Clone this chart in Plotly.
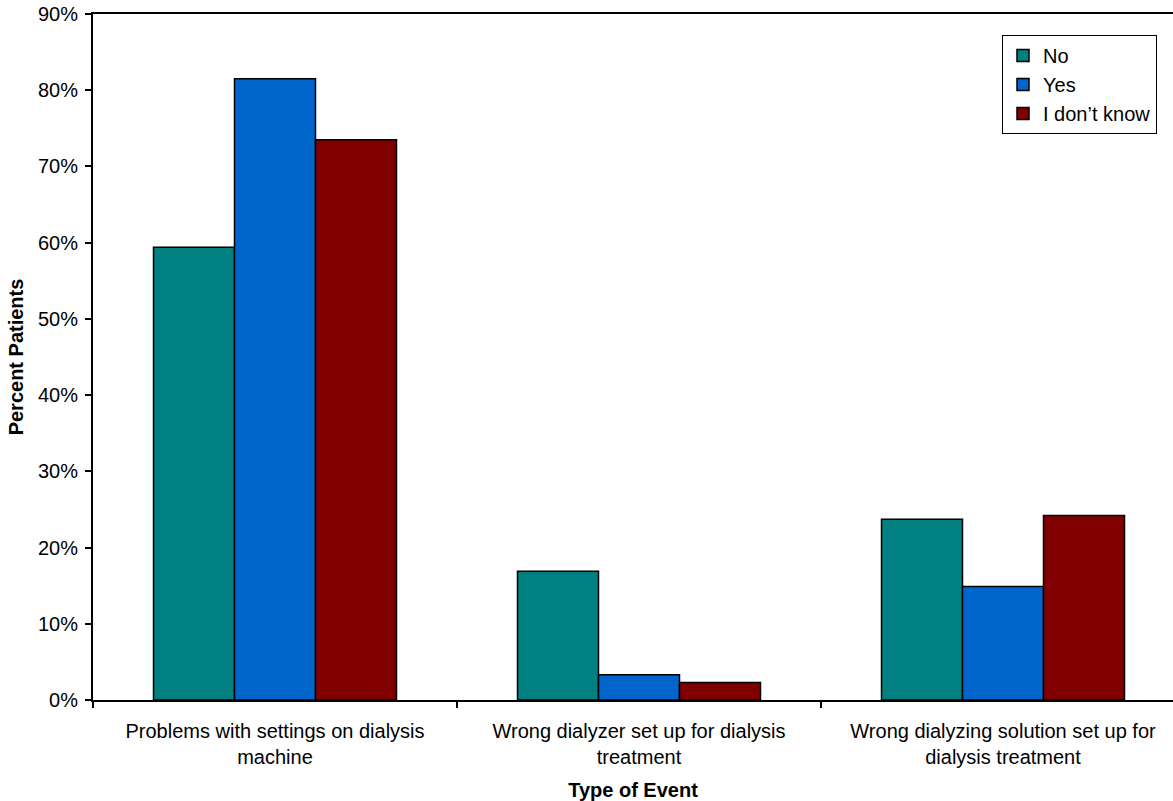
import plotly.graph_objects as go

categories = [
    "Problems with settings on dialysis<br>machine",
    "Wrong dialyzer set up for dialysis<br>treatment",
    "Wrong dialyzing solution set up for<br>dialysis treatment",
]
series_names = ["No", "Yes", "I don’t know"]
no_vals = [59.4, 16.9, 23.7]
yes_vals = [81.5, 3.3, 14.9]
dontknow_vals = [73.5, 2.3, 24.2]
colors = ["#008080", "#0066CC", "#800000"]
y_ticks = [0, 10, 20, 30, 40, 50, 60, 70, 80, 90]
y_ticklabels = [f"{v}%" for v in y_ticks]

FONT = "Liberation Sans, Arial, sans-serif"
FS = 20

fig = go.Figure()
for name, vals, col in zip(series_names, [no_vals, yes_vals, dontknow_vals], colors):
    fig.add_trace(go.Bar(
        x=categories, y=vals, name=name, legendgroup=name,
        marker=dict(color=col, line=dict(color="black", width=1.5)),
    ))

W, H = 1173, 801
L, R, T, B = 93, 0, 14, 100.5
plot_w = W - L - R
plot_h = H - T - B

fig.update_layout(
    width=W, height=H,
    autosize=False,
    margin=dict(l=L, r=R, t=T, b=B),
    paper_bgcolor="white", plot_bgcolor="white",
    barmode="group", bargap=0.3324, bargroupgap=0,
    font=dict(family=FONT, size=FS, color="black"),
    showlegend=True,
    legend=dict(
        x=(1157 - L) / plot_w, xanchor="right",
        y=1 - (35 - T) / plot_h, yanchor="top",
        bordercolor="black", borderwidth=1, bgcolor="white",
        tracegroupgap=0,
        font=dict(family=FONT, size=FS, color="black"),
    ),
)

span = plot_w / 364.0
fig.update_xaxes(
    type="category",
    range=[-0.5, -0.5 + span],
    showline=True, linecolor="black", linewidth=2, mirror=True,
    ticks="outside", tickson="boundaries", ticklen=6, tickwidth=1.5, tickcolor="black",
    showgrid=False, zeroline=False,
    ticklabelstandoff=12,
    tickfont=dict(family=FONT, size=FS, color="black"),
    title=dict(text="<b>Type of Event</b>", font=dict(family=FONT, size=FS, color="black"), standoff=16),
    automargin=False,
)
fig.update_yaxes(
    range=[0, 90],
    tickvals=y_ticks, ticktext=y_ticklabels,
    showline=True, linecolor="black", linewidth=2,
    ticks="outside", ticklen=6, tickwidth=1.5, tickcolor="black",
    showgrid=False, zeroline=False,
    ticklabelstandoff=3,
    tickfont=dict(family=FONT, size=FS, color="black"),
    title=dict(text="<b>Percent Patients</b>", font=dict(family=FONT, size=FS, color="black"), standoff=9),
    automargin=False,
)

fig.write_html(
    "out.html",
    config={"displayModeBar": False},
    post_script="document.body.style.margin='0';document.body.style.overflow='hidden';",
)
